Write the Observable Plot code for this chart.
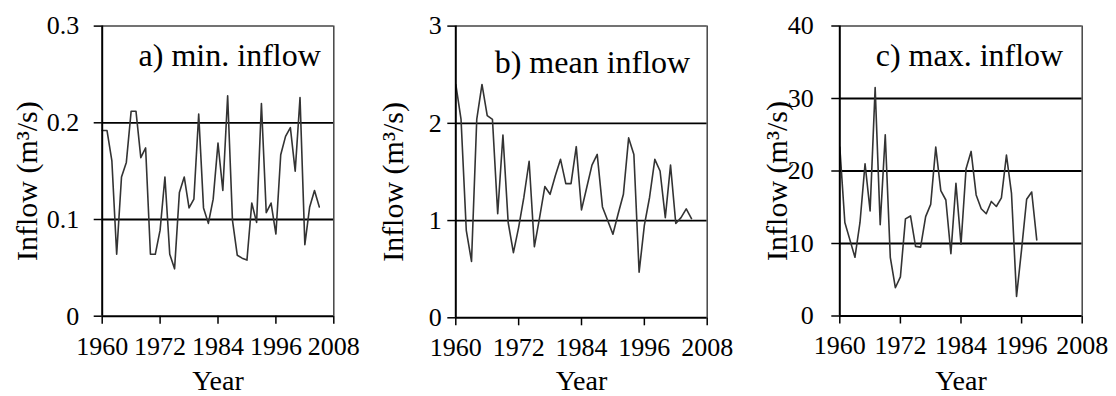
<!DOCTYPE html>
<html><head><meta charset="utf-8">
<script src="https://cdn.jsdelivr.net/npm/d3@7"></script>
<script src="https://cdn.jsdelivr.net/npm/@observablehq/plot@0.6"></script>
<style>
body{margin:0;background:#fff;}
#wrap{position:relative;width:1116px;height:396px;overflow:hidden;background:#fff;}
#wrap svg{position:absolute;top:0;}
#wrap svg, #wrap svg text, #wrap svg g{font-family:"Liberation Serif" !important;}
</style></head><body><div id="wrap"></div>
<script>
// ---- data ----
const yearsAB = [1960,1961,1962,1963,1964,1965,1966,1967,1968,1969,1970,1971,1972,1973,1974,1975,1976,1977,1978,1979,1980,1981,1982,1983,1984,1985,1986,1987,1988,1989,1990,1991,1992,1993,1994,1995,1996,1997,1998,1999,2000,2001,2002,2003,2004,2005];
const minInflow = [0.192,0.192,0.161,0.064,0.144,0.159,0.212,0.212,0.164,0.174,0.064,0.064,0.089,0.144,0.064,0.049,0.128,0.144,0.112,0.121,0.209,0.112,0.096,0.121,0.179,0.130,0.228,0.099,0.063,0.060,0.058,0.117,0.097,0.220,0.107,0.117,0.085,0.167,0.186,0.195,0.150,0.226,0.074,0.113,0.130,0.113];
const meanInflow = [2.40,2.04,0.90,0.58,2.04,2.40,2.08,2.04,1.07,1.88,0.98,0.67,0.93,1.24,1.61,0.73,1.03,1.35,1.27,1.46,1.63,1.38,1.38,1.76,1.11,1.34,1.57,1.68,1.14,1.00,0.86,1.07,1.27,1.85,1.68,0.47,0.95,1.24,1.63,1.51,1.03,1.57,0.97,1.03,1.12,1.02];
const yearsC = [1960,1961,1962,1963,1964,1965,1966,1967,1968,1969,1970,1971,1972,1973,1974,1975,1976,1977,1978,1979,1980,1981,1982,1983,1984,1985,1986,1987,1988,1989,1990,1991,1992,1993,1994,1995,1996,1997,1998,1999];
const maxInflow = [23.3,12.9,10.5,8.1,12.9,21.0,14.5,31.5,12.6,25.0,8.1,3.9,5.4,13.4,13.8,9.6,9.5,13.7,15.4,23.3,17.3,16.0,8.6,18.3,9.9,20.3,22.7,16.7,14.8,14.1,15.8,15.1,16.3,22.2,16.9,2.7,9.2,16.1,17.1,10.5];
const xTicks = [1960,1972,1984,1996,2008];
const yTicksA = [0,0.1,0.2,0.3];
const yTicksB = [0,1,2,3];
const yTicksC = [0,10,20,30,40];
const titles = ["a) min. inflow","b) mean inflow","c) max. inflow"];
const xLabel = "Year";
const yLabel = "Inflow (m³/s)";

// ---- layout ----
const FONT = "Liberation Serif";
const panels = [
  {left:0,   width:372, ml:101.7, mr:38.7, mt:25.6, mb:80.3, years:yearsAB, values:minInflow,  yTicks:yTicksA, title:titles[0], tdx:-13, tdy:40, ldx:-74.5, tpad:15, xdy:73.5},
  {left:372, width:372, ml:83.3,  mr:37.3, mt:25.6, mb:78.7, years:yearsAB, values:meanInflow, yTicks:yTicksB, title:titles[1], tdx:-17, tdy:46.5, ldx:-62,   tpad:6,  xdy:72},
  {left:744, width:372, ml:95.3,  mr:34.3, mt:25.5, mb:80.5, years:yearsC,  values:maxInflow,  yTicks:yTicksC, title:titles[2], tdx:-19, tdy:40, ldx:-62,   tpad:18, xdy:73.5}
];

const wrap = document.getElementById("wrap");
for (const p of panels) {
  const data = p.years.map((y, i) => ({year: y, v: p.values[i]}));
  const yMax = p.yTicks[p.yTicks.length - 1];
  const svg = Plot.plot({
    width: p.width, height: 396,
    marginLeft: p.ml, marginRight: p.mr, marginTop: p.mt, marginBottom: p.mb,
    style: {fontFamily: FONT, fontSize: "26px", color: "#000", background: "transparent", overflow: "visible"},
    x: {domain: [xTicks[0], xTicks[xTicks.length - 1]]},
    y: {domain: [0, yMax]},
    marks: [
      Plot.ruleY(p.yTicks.slice(1, -1), {stroke: "#000", strokeWidth: 1.8}),
      Plot.ruleY([yMax], {stroke: "#444", strokeWidth: 1.5}),
      Plot.ruleX([xTicks[xTicks.length - 1]], {stroke: "#444", strokeWidth: 1.5}),
      Plot.line(data, {x: "year", y: "v", stroke: "#333", strokeWidth: 1.6}),
      Plot.axisY({ticks: p.yTicks, tickSize: 8, tickPadding: p.tpad, label: null, stroke: "#000", strokeWidth: 1.5, fontSize: 26, fontFamily: FONT, tickFormat: d => String(d)}),
      Plot.axisX({ticks: xTicks, tickSize: 8, tickPadding: 12, label: null, tickFormat: "d", stroke: "#000", strokeWidth: 1.5, fontSize: 26, fontFamily: FONT}),
      Plot.ruleX([xTicks[0]], {stroke: "#000", strokeWidth: 2}),
      Plot.ruleY([0], {stroke: "#000", strokeWidth: 2}),
      Plot.text([p.title], {text: d => d, frameAnchor: "top-right", textAnchor: "end", lineAnchor: "bottom", dx: p.tdx, dy: p.tdy, fontSize: 32, fontFamily: FONT, fill: "#000"}),
      Plot.text([xLabel], {text: d => d, frameAnchor: "bottom", textAnchor: "middle", lineAnchor: "bottom", dy: p.xdy, fontSize: 28, fontFamily: FONT, fill: "#000"}),
      Plot.text([yLabel], {text: d => d, frameAnchor: "left", textAnchor: "middle", rotate: -90, lineAnchor: "middle", dx: p.ldx, dy: 10, fontSize: 30, fontFamily: FONT, fill: "#000"})
    ]
  });
  svg.style.left = p.left + "px";
  svg.querySelectorAll("text").forEach(t => { t.style.fontFamily = FONT; t.setAttribute("font-family", FONT); });
  wrap.appendChild(svg);
}
</script>
</body></html>
